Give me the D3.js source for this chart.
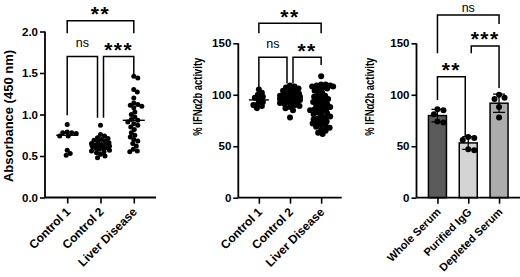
<!DOCTYPE html>
<html>
<head>
<meta charset="utf-8">
<script src="https://cdn.jsdelivr.net/npm/d3@7"></script>
<style>
  html, body { margin: 0; padding: 0; background: #fff; }
  svg { display: block; }
  text { font-family: "Liberation Sans", Arial, sans-serif; }
</style>
</head>
<body>
<svg id="chart" width="520" height="277"></svg>
<script>
// ---------------- DATA ----------------
// Panel 1: Absorbance (450 nm)
const p1Categories = ["Control 1", "Control 2", "Liver Disease"];
const p1Control1 = [0.88, 0.79, 0.78, 0.78, 0.77, 0.74, 0.74, 0.57, 0.53, 0.51];
const p1Control2 = [0.87, 0.76, 0.74, 0.72, 0.71, 0.70, 0.69, 0.68, 0.67, 0.66, 0.65, 0.64, 0.63, 0.63,
                    0.62, 0.62, 0.61, 0.60, 0.60, 0.59, 0.58, 0.57, 0.56, 0.55, 0.54, 0.52, 0.50, 0.48];
const p1Liver = [1.46, 1.44, 1.30, 1.27, 1.20, 1.14, 1.12, 1.11, 1.10, 1.08, 1.03, 1.00, 0.97, 0.94, 0.93,
                 0.91, 0.89, 0.87, 0.85, 0.82, 0.78, 0.75, 0.73, 0.70, 0.68, 0.65, 0.62, 0.58, 0.56, 0.55];
const p1Medians = [0.75, 0.62, 0.93];
const p1Ticks = [0, 0.5, 1.0, 1.5, 2.0];
const p1TickLabels = ["0.0", "0.5", "1.0", "1.5", "2.0"];
const p1YLabel = "Absorbance (450 nm)";
// brackets: [fromIdx, toIdx, topValue, leftEndValue, rightEndValue, label]
const p1Brackets = [
  [0, 2, 2.13, 1.98, 1.98, "**"],
  [0, 1, 1.70, 0.99, 0.96, "ns"],
  [1, 2, 1.70, 0.96, 1.48, "***"]
];

// Panel 2: % IFNa2b activity (scatter)
const p2Categories = ["Control 1", "Control 2", "Liver Disease"];
const p2Control1 = [105, 102, 100, 98, 97, 95, 93, 91, 90, 89, 87];
const p2Control2 = [109, 108, 107, 106, 105, 104, 103, 102, 101, 100, 100, 99, 99, 98, 98, 97, 97, 96, 96,
                    95, 95, 95, 94, 94, 93, 93, 92, 92, 91, 90, 89, 88, 87, 85, 78];
const p2Liver = [118, 110, 110, 109, 109, 108, 108, 107, 106, 105, 104, 102, 100, 99, 98, 97, 96, 95, 94, 93,
                 92, 91, 90, 89, 88, 87, 86, 86, 85, 84, 83, 82, 81, 80, 79, 78, 77, 76, 75, 74, 73, 72,
                 71, 70, 69, 68, 66, 65, 63, 62];
const p2Medians = [95, 95, 86];
const p2Ticks = [0, 50, 100, 150];
const p2YLabel = "% IFNα2b activity";
const p2Brackets = [
  [0, 2, 169.4, 159.7, 159.7, "**"],
  [0, 1, 136.4, 106, 111, "ns"],
  [1, 2, 136.4, 111, 129, "**"]
];

// Panel 3: % IFNa2b activity (bars, mean ± SD)
const p3Categories = ["Whole Serum", "Purified IgG", "Depleted Serum"];
const p3Whole = [86, 85, 81, 74, 73];
const p3Purified = [59, 58, 56, 47, 46];
const p3Depleted = [100, 97, 96, 88, 78];
const p3Colors = ["#5b5b5b", "#d4d4d4", "#acacac"];
const p3Ticks = [0, 50, 100, 150];
const p3YLabel = "% IFNα2b activity";
const p3Brackets = [
  [0, 2, 177.5, 140.3, 168.8, "ns"],
  [1, 2, 147.4, 140.3, 106.6, "***"],
  [0, 1, 117.6, 95, 59.3, "**"]
];

// ---------------- DRAWING ----------------
const svg = d3.select("#chart");
const FONT_TICK = 11.5;

// simple beeswarm layout, limited to a half-width
function swarm(values, yScale, cx, r, overlap, maxW) {
  const placed = [];
  const minD = 2 * r * overlap;
  const sorted = values.slice().sort((a, b) => b - a);
  const offs = [0];
  for (let o = 0.5; o <= maxW + 1e-9; o += 0.5) { offs.push(o, -o); }
  sorted.forEach(v => {
    const y = yScale(v);
    let chosen = null, best = null, bestD = -1;
    for (const off of offs) {
      const x = cx + off;
      let dmin = Infinity;
      placed.forEach(p => { dmin = Math.min(dmin, Math.hypot(p.x - x, p.y - y)); });
      if (dmin >= minD) { chosen = x; break; }
      if (dmin > bestD) { bestD = dmin; best = x; }
    }
    placed.push({ x: chosen !== null ? chosen : best, y: y, v: v });
  });
  return placed;
}

function drawAxes(g, x, y, ticks, tickLabels, xRange, yLabel, yLabelPos, yLabelSize, yLabelLen, catFont) {
  const [x0, x1] = xRange;
  const yAxis = d3.axisLeft(y).tickValues(ticks).tickSizeOuter(0).tickSizeInner(5).tickPadding(2)
    .tickFormat((d, i) => tickLabels ? tickLabels[i] : d);
  const ya = g.append("g").attr("transform", `translate(${x0},0)`).call(yAxis);
  ya.select(".domain").attr("stroke", "#000").attr("stroke-width", 1.8)
    .attr("d", `M0,${y(ticks[0])}V${y(ticks[ticks.length - 1])}`);
  ya.selectAll(".tick line").attr("stroke", "#000").attr("stroke-width", 1.6);
  ya.selectAll(".tick text").attr("fill", "#000").attr("font-size", FONT_TICK).attr("font-weight", "bold")
    .attr("font-family", "Liberation Sans, Arial, sans-serif");
  const xAxis = d3.axisBottom(x).tickSizeOuter(0).tickSizeInner(6).tickFormat("");
  const xa = g.append("g").attr("transform", `translate(0,${y(0)})`).call(xAxis);
  xa.select(".domain").attr("stroke", "#000").attr("stroke-width", 1.8).attr("d", `M${x0},0H${x1}`);
  xa.selectAll(".tick line").attr("stroke", "#000").attr("stroke-width", 1.6);
  x.domain().forEach(c => {
    g.append("text")
      .attr("transform", `translate(${x(c) + 4},${y(0) + 15}) rotate(-45)`)
      .attr("text-anchor", "end")
      .attr("font-size", catFont).attr("font-weight", "bold").attr("fill", "#000")
      .text(c);
  });
  g.append("text")
    .attr("transform", `translate(${yLabelPos[0]},${yLabelPos[1]}) rotate(-90)`)
    .attr("text-anchor", "middle").attr("dominant-baseline", "central")
    .attr("font-size", yLabelSize).attr("font-weight", "bold").attr("fill", "#000")
    .attr("textLength", yLabelLen).attr("lengthAdjust", "spacingAndGlyphs")
    .text(yLabel);
}

function drawBrackets(g, x, y, brackets, cats) {
  brackets.forEach(b => {
    const [fi, ti, top, le, re, label] = b;
    let xl = x(cats[fi]), xr = x(cats[ti]);
    if (ti - fi === 1) {
      if (fi === 1) xl += 3;
      if (ti === 1) xr -= 3;
    }
    const yt = y(top);
    g.append("path")
      .attr("d", `M${xl},${y(le)}V${yt}H${xr}V${y(re)}`)
      .attr("fill", "none").attr("stroke", "#000").attr("stroke-width", 1.5);
    const isNs = label === "ns";
    g.append("text")
      .attr("x", (xl + xr) / 2)
      .attr("y", isNs ? Math.max(yt - 9, 11.5) : yt + 0.5)
      .attr("text-anchor", "middle")
      .attr("font-size", isNs ? 12.5 : 21)
      .attr("font-weight", isNs ? "normal" : "bold")
      .attr("letter-spacing", isNs ? 0 : 1.5)
      .attr("fill", "#000")
      .text(label);
  });
}

// ---- Panel 1 ----
{
  const g = svg.append("g");
  const xRange = [45, 156];
  const x = d3.scalePoint().domain(p1Categories).range(xRange).padding(0.667);
  const y = d3.scaleLinear().domain([0, 2]).range([197.5, 31.5]);
  drawAxes(g, x, y, p1Ticks, p1TickLabels, xRange, p1YLabel, [8, 116], 13, 132, 12);
  const groups = [p1Control1, p1Control2, p1Liver];
  const widths = [10, 9, 11];
  groups.forEach((vals, i) => {
    const pts = swarm(vals, y, x(p1Categories[i]), 2.5, 0.85, widths[i]);
    g.selectAll(null).data(pts).enter().append("circle")
      .attr("cx", d => d.x).attr("cy", d => d.y).attr("r", 2.5).attr("fill", "#000");
    g.append("line")
      .attr("x1", x(p1Categories[i]) - 11).attr("x2", x(p1Categories[i]) + 11)
      .attr("y1", y(p1Medians[i])).attr("y2", y(p1Medians[i]))
      .attr("stroke", "#000").attr("stroke-width", 1.4);
  });
  drawBrackets(g, x, y, p1Brackets, p1Categories);
}

// ---- Panel 2 ----
{
  const g = svg.append("g");
  const xRange = [238.3, 341.7];
  const x = d3.scalePoint().domain(p2Categories).range(xRange).padding(0.66);
  const y = d3.scaleLinear().domain([0, 150]).range([197.7, 43.3]);
  drawAxes(g, x, y, p2Ticks, null, xRange, p2YLabel, [198.3, 96.7], 12.5, 78, 12);
  const groups = [p2Control1, p2Control2, p2Liver];
  const widths = [9, 10, 12];
  groups.forEach((vals, i) => {
    const pts = swarm(vals, y, x(p2Categories[i]), 3, 0.7, widths[i]);
    g.selectAll(null).data(pts).enter().append("circle")
      .attr("cx", d => d.x).attr("cy", d => d.y).attr("r", 3).attr("fill", "#000");
    g.append("line")
      .attr("x1", x(p2Categories[i]) - 10).attr("x2", x(p2Categories[i]) + 10)
      .attr("y1", y(p2Medians[i])).attr("y2", y(p2Medians[i]))
      .attr("stroke", "#000").attr("stroke-width", 1.4);
  });
  drawBrackets(g, x, y, p2Brackets, p2Categories);
}

// ---- Panel 3 ----
{
  const g = svg.append("g");
  const xRange = [416.5, 520];
  const x = d3.scalePoint().domain(p3Categories).range(xRange).padding(0.68);
  const y = d3.scaleLinear().domain([0, 150]).range([197.7, 43.3]);
  const groups = [p3Whole, p3Purified, p3Depleted];
  const barW = 18;
  groups.forEach((vals, i) => {
    const cx = x(p3Categories[i]);
    const m = d3.mean(vals), sd = d3.deviation(vals);
    g.append("rect")
      .attr("x", cx - barW / 2).attr("width", barW)
      .attr("y", y(m)).attr("height", y(0) - y(m))
      .attr("fill", p3Colors[i]).attr("stroke", "#000").attr("stroke-width", 1.5);
    g.append("path")
      .attr("d", `M${cx},${y(m - sd)}V${y(m + sd)}M${cx - 6},${y(m + sd)}H${cx + 6}M${cx - 6},${y(m - sd)}H${cx + 6}`)
      .attr("stroke", "#000").attr("stroke-width", 1.3).attr("fill", "none");
    const pts = swarm(vals, y, cx, 3, 1.0, 9);
    g.selectAll(null).data(pts).enter().append("circle")
      .attr("cx", d => d.x).attr("cy", d => d.y).attr("r", 3).attr("fill", "#000");
  });
  drawAxes(g, x, y, p3Ticks, null, xRange, p3YLabel, [370, 96.7], 12.5, 78, 11);
  drawBrackets(g, x, y, p3Brackets, p3Categories);
}
</script>
</body>
</html>
